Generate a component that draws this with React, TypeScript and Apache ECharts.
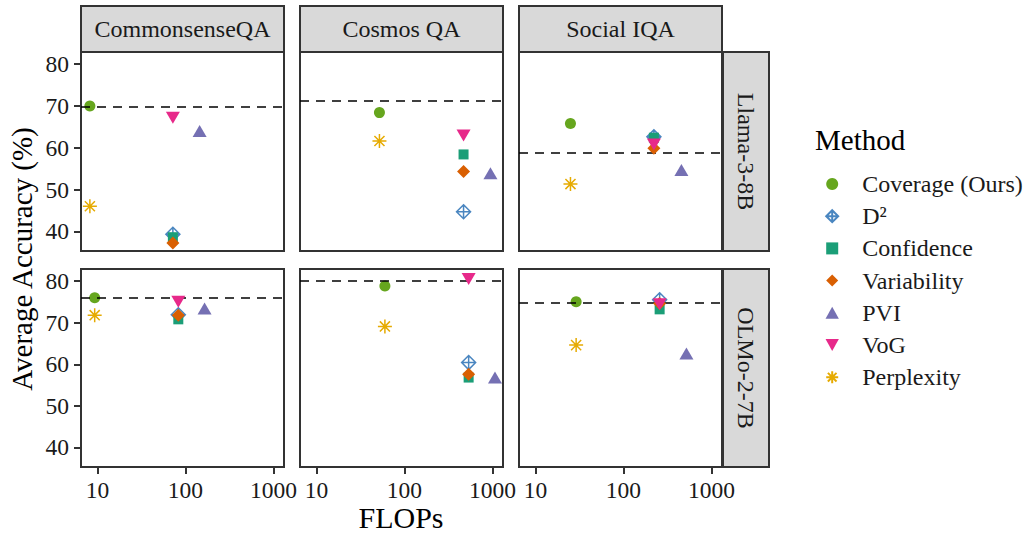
import React, { useEffect, useRef } from "react";
import * as echarts from "echarts";

// ---------- data ----------
const methods = ["Coverage (Ours)", "D²", "Confidence", "Variability", "PVI", "VoG", "Perplexity"];
const datasets = ["CommonsenseQA", "Cosmos QA", "Social IQA"];
const models = ["Llama-3-8B", "OLMo-2-7B"];

// FLOPs per method (order as in `methods`), per panel
const llamaCsqaFlops = [8.2, 72, 72, 72, 145, 72, 8.2];
const llamaCsqaAcc = [70.0, 39.3, 38.6, 37.2, 64.0, 67.2, 46.0];
const llamaCosmosFlops = [52, 470, 470, 470, 950, 470, 52];
const llamaCosmosAcc = [68.4, 44.7, 58.4, 54.3, 53.9, 62.9, 61.6];
const llamaSiqaFlops = [25, 222, 222, 222, 456, 222, 25];
const llamaSiqaAcc = [65.8, 62.6, 62.4, 59.9, 54.7, 60.8, 51.3];

const olmoCsqaFlops = [9.3, 83, 83, 83, 165, 83, 9.3];
const olmoCsqaAcc = [76.0, 71.9, 70.8, 71.8, 73.4, 75.0, 71.8];
const olmoCosmosFlops = [60, 537, 537, 537, 1070, 537, 60];
const olmoCosmosAcc = [78.8, 60.4, 56.8, 57.6, 56.8, 80.5, 69.1];
const olmoSiqaFlops = [29, 258, 258, 258, 520, 258, 29];
const olmoSiqaAcc = [75.0, 75.5, 73.2, 74.6, 62.6, 74.4, 64.6];

// dashed reference lines (per model, per dataset)
const llamaRef = [69.7, 71.2, 58.8];
const olmoRef = [76.0, 80.0, 74.9];

const yTicks = [40, 50, 60, 70, 80];
const xTicks = [10, 100, 1000];

const panels = [
  [
    { flops: llamaCsqaFlops, acc: llamaCsqaAcc, ref: llamaRef[0] },
    { flops: llamaCosmosFlops, acc: llamaCosmosAcc, ref: llamaRef[1] },
    { flops: llamaSiqaFlops, acc: llamaSiqaAcc, ref: llamaRef[2] },
  ],
  [
    { flops: olmoCsqaFlops, acc: olmoCsqaAcc, ref: olmoRef[0] },
    { flops: olmoCosmosFlops, acc: olmoCosmosAcc, ref: olmoRef[1] },
    { flops: olmoSiqaFlops, acc: olmoSiqaAcc, ref: olmoRef[2] },
  ],
];

// ---------- styles ----------
const FONT = "'Liberation Serif', 'Times New Roman', serif";
const colors = ["#66a61e", "#4a86c0", "#1b9e77", "#d95f02", "#7570b3", "#e7298a", "#e6ab02"];
const symbols = [
  "circle",
  "path://M0,-1 L1,0 L0,1 L-1,0 Z M0,-1 L0,1 M-1,0 L1,0",
  "path://M-1,-1 L1,-1 L1,1 L-1,1 Z",
  "path://M0,-1 L1,0 L0,1 L-1,0 Z",
  "path://M0,-1 L1,0.8 L-1,0.8 Z",
  "path://M-1,-0.8 L1,-0.8 L0,1 Z",
  "path://M0,-1 L0,1 M-1,0 L1,0 M-0.72,-0.72 L0.72,0.72 M-0.72,0.72 L0.72,-0.72",
];
const sizes = [11, 14, 10, 13, [14, 12], [14, 12], 14];
const hollow = [false, true, false, false, false, false, true];

const X_MIN = 6.5;
const X_MAX = 1320;
const Y_MIN = 35.3;
const Y_MAX = 82.9;

const colLeft = [81, 300, 519];
const panelW = 203;
const rowTop = [52, 269];
const panelH = [199, 198];

export default function App() {
  const ref = useRef<HTMLDivElement>(null);
  useEffect(() => {
    document.body.style.margin = "0";
    if (!ref.current) return;
    const chart = echarts.init(ref.current, undefined, { renderer: "svg" });

    const grid: any[] = [];
    const xAxis: any[] = [];
    const yAxis: any[] = [];
    const series: any[] = [];
    const graphic: any[] = [];

    for (let r = 0; r < 2; r++) {
      for (let c = 0; c < 3; c++) {
        const g = r * 3 + c;
        grid.push({
          left: colLeft[c],
          top: rowTop[r],
          width: panelW,
          height: panelH[r],
          show: true,
          borderColor: "#333333",
          borderWidth: 2,
          backgroundColor: "#ffffff",
          containLabel: false,
        });
        // data axis (log)
        xAxis.push({
          type: "log",
          logBase: 10,
          gridIndex: g,
          min: X_MIN,
          max: X_MAX,
          position: "bottom",
          show: false,
        });
        // tick axis (log10 positions, same extent)
        xAxis.push({
          type: "value",
          gridIndex: g,
          min: Math.log10(X_MIN),
          max: Math.log10(X_MAX),
          position: "bottom",
          show: r === 1,
          axisLine: { show: false },
          splitLine: { show: false },
          axisTick: {
            show: r === 1,
            customValues: xTicks.map((v) => Math.log10(v)),
            length: 7,
            lineStyle: { color: "#333333", width: 2 },
          },
          axisLabel: {
            show: r === 1,
            customValues: xTicks.map((v) => Math.log10(v)),
            formatter: (v: number) => String(Math.round(Math.pow(10, v))),
            margin: 11,
            fontSize: 23.5,
            fontFamily: FONT,
            color: "#1a1a1a",
          },
        });
        yAxis.push({
          type: "value",
          gridIndex: g,
          min: Y_MIN,
          max: Y_MAX,
          axisLine: { show: false },
          splitLine: { show: false },
          axisTick: {
            show: c === 0,
            customValues: yTicks,
            length: 7,
            lineStyle: { color: "#333333", width: 2 },
          },
          axisLabel: {
            show: c === 0,
            customValues: yTicks,
            margin: 12,
            fontSize: 23.5,
            fontFamily: FONT,
            color: "#1a1a1a",
          },
        });

        const p = panels[r][c];
        series.push({
          type: "line",
          name: "__ref" + g,
          xAxisIndex: g * 2,
          yAxisIndex: g,
          data: [],
          z: 1,
          silent: true,
          markLine: {
            silent: true,
            symbol: ["none", "none"],
            label: { show: false },
            lineStyle: { type: [9, 7], color: "#000000", width: 1.7 },
            data: [{ yAxis: p.ref }],
          },
        });
        methods.forEach((m, i) => {
          series.push({
            type: "scatter",
            name: m,
            xAxisIndex: g * 2,
            yAxisIndex: g,
            z: 2 + i,
            symbol: symbols[i],
            symbolSize: sizes[i],
            itemStyle: hollow[i]
              ? { color: "none", borderColor: colors[i], borderWidth: 1.5, opacity: 1 }
              : { color: colors[i], opacity: 1 },
            data: [[p.flops[i], p.acc[i]]],
          });
        });
      }
    }

    // column strips
    datasets.forEach((d, c) => {
      graphic.push({
        type: "rect",
        shape: { x: colLeft[c], y: 6, width: panelW, height: 46 },
        style: { fill: "#d9d9d9", stroke: "#333333", lineWidth: 2 },
        z: 10,
      });
      graphic.push({
        type: "text",
        x: colLeft[c] + panelW / 2,
        y: 29,
        style: {
          text: d,
          fontSize: 24,
          fontFamily: FONT,
          fill: "#1a1a1a",
          align: "center",
          verticalAlign: "middle",
        },
        z: 11,
      });
    });
    // row strips
    models.forEach((m, r) => {
      graphic.push({
        type: "rect",
        shape: { x: 723, y: rowTop[r], width: 46, height: panelH[r] },
        style: { fill: "#d9d9d9", stroke: "#333333", lineWidth: 2 },
        z: 10,
      });
      graphic.push({
        type: "text",
        x: 746,
        y: rowTop[r] + panelH[r] / 2,
        rotation: -Math.PI / 2,
        style: {
          text: m,
          fontSize: 24,
          fontFamily: FONT,
          fill: "#1a1a1a",
          align: "center",
          verticalAlign: "middle",
        },
        z: 11,
      });
    });
    // axis titles
    graphic.push({
      type: "text",
      x: 22,
      y: 259,
      rotation: Math.PI / 2,
      style: {
        text: "Average Accuracy (%)",
        fontSize: 29,
        fontFamily: FONT,
        fill: "#000000",
        align: "center",
        verticalAlign: "middle",
      },
    });
    graphic.push({
      type: "text",
      x: 401,
      y: 517,
      style: {
        text: "FLOPs",
        fontSize: 30,
        fontFamily: FONT,
        fill: "#000000",
        align: "center",
        verticalAlign: "middle",
      },
    });
    // legend title
    graphic.push({
      type: "text",
      x: 815,
      y: 140,
      style: {
        text: "Method",
        fontSize: 29,
        fontFamily: FONT,
        fill: "#000000",
        align: "left",
        verticalAlign: "middle",
      },
    });

    chart.setOption({
      animation: false,
      textStyle: { fontFamily: FONT },
      grid,
      xAxis,
      yAxis,
      series,
      graphic,
      legend: {
        data: methods,
        orient: "vertical",
        left: 818.7,
        top: 167,
        itemWidth: 50,
        itemHeight: 12,
        itemGap: 8.2,
        symbolKeepAspect: true,
        selectedMode: false,
        textStyle: { fontSize: 24, fontFamily: FONT, color: "#1a1a1a" },
      },
    });
    return () => chart.dispose();
  }, []);
  return <div ref={ref} style={{ width: 1023, height: 534 }} />;
}
